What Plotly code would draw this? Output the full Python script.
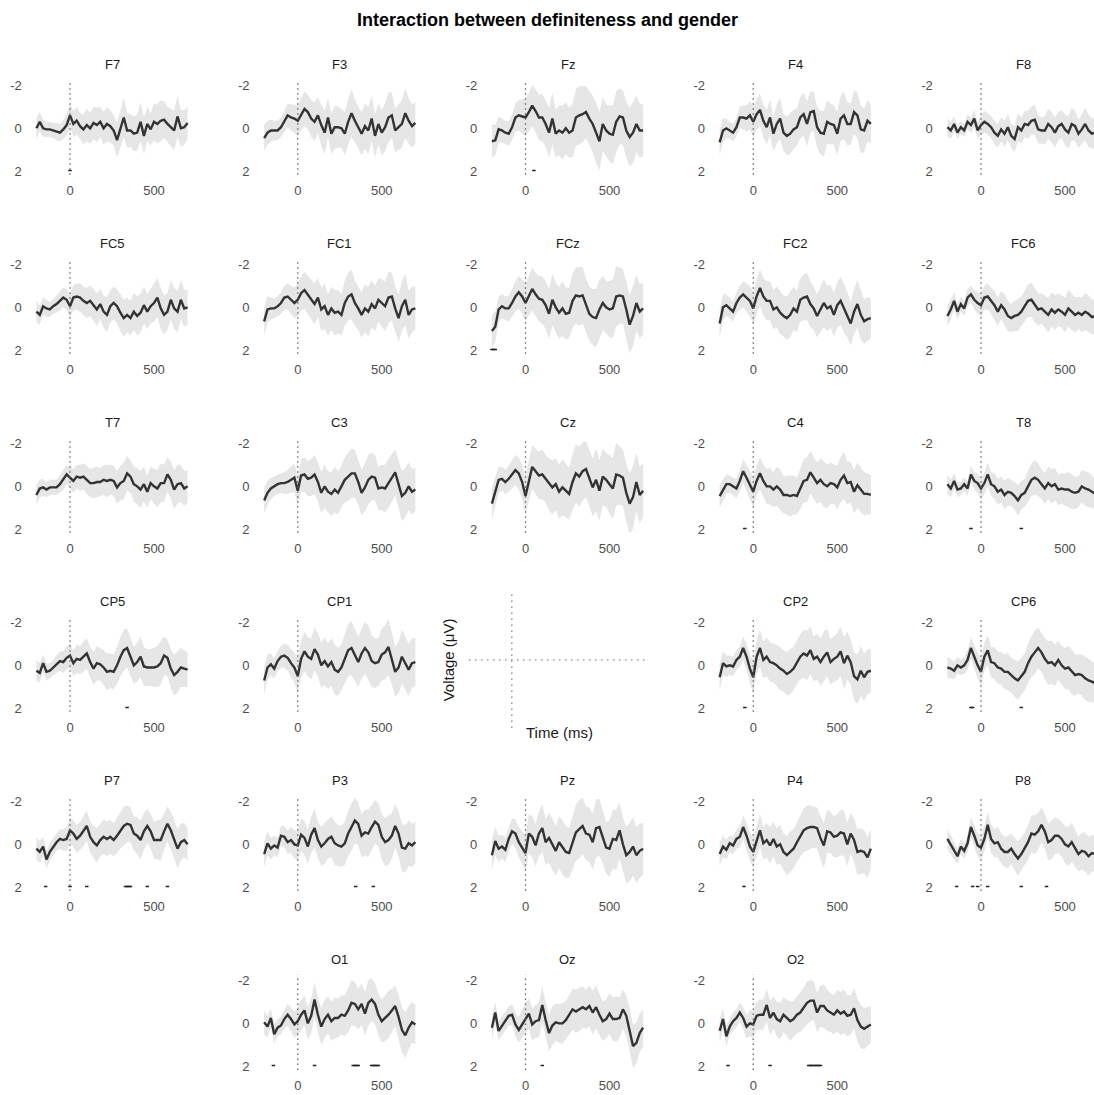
import plotly.graph_objects as go

W, H = 1094, 1095
time_ms = list(range(-200, 701, 20))

# ---- mean difference waves (µV), one value per 20 ms from -200 to 700 ----
F7 = [0.0, -0.3, 0.0, 0.05, 0.05, 0.1, 0.15, 0.2, 0.05, -0.15,
      -0.6, -0.2, -0.35, -0.1, 0.05, -0.15, 0.0, -0.25, -0.15, -0.3,
      0.0, -0.2, -0.1, 0.1, 0.55, 0.0, -0.5, 0.1, 0.1, 0.25,
      0.2, -0.3, 0.35, -0.2, 0.05, -0.3, -0.2, -0.35, -0.4, -0.2,
      -0.05, 0.1, -0.55, 0.0, -0.05, -0.25]
F3 = [0.45, 0.2, 0.1, 0.1, 0.1, -0.05, -0.3, -0.6, -0.5, -0.45,
      -0.35, -0.65, -0.9, -0.75, -0.45, -0.3, -0.6, -0.15, 0.2, -0.5,
      0.25, -0.05, -0.05, 0.0, 0.25, -0.3, -0.7, -0.35, -0.05, 0.25,
      -0.1, 0.1, -0.45, 0.35, -0.2, 0.2, -0.05, -0.5, -0.6, 0.1,
      -0.05, -0.2, -0.7, -0.35, -0.1, -0.25]
Fz = [0.6, 0.55, 0.05, 0.1, 0.2, 0.25, -0.05, -0.5, -0.6, -0.55,
      -0.5, -0.75, -1.05, -0.8, -0.5, -0.5, -0.2, 0.2, -0.45, 0.25,
      0.1, 0.2, 0.0, 0.2, 0.1, -0.5, -0.6, -0.65, -0.75, -0.45,
      -0.2, 0.2, 0.6, -0.2, 0.1, 0.25, 0.3, -0.3, -0.55, -0.5,
      0.1, 0.4, 0.2, -0.2, 0.1, 0.1]
F4 = [0.65, 0.1, 0.0, 0.1, 0.2, -0.05, -0.5, -0.5, -0.45, -0.6,
      -0.3, -0.65, -0.85, -0.35, -0.05, -0.5, 0.25, -0.2, -0.45, 0.2,
      0.35, 0.25, 0.05, -0.05, -0.5, -0.65, -0.2, -0.75, -0.8, -0.05,
      0.2, 0.25, -0.3, -0.2, -0.15, 0.25, -0.45, -0.6, -0.2, -0.2,
      -0.75, -0.6, 0.05, 0.1, -0.35, -0.2]
F8 = [-0.05, 0.1, -0.2, 0.2, -0.05, 0.1, -0.3, -0.15, -0.45, 0.1,
      -0.15, -0.3, -0.2, -0.05, 0.2, 0.35, 0.05, 0.25, -0.05, 0.35,
      0.5, -0.05, 0.1, -0.2, -0.15, -0.35, -0.4, 0.05, 0.1, 0.1,
      -0.2, -0.05, 0.2, -0.1, -0.2, 0.05, 0.2, -0.2, -0.1, 0.25,
      0.05, -0.2, 0.1, 0.25, 0.2, 0.1]
FC5 = [0.2, 0.35, -0.05, 0.05, 0.1, -0.05, -0.15, -0.3, -0.45, -0.35,
       -0.05, -0.45, -0.5, -0.45, -0.3, -0.2, -0.3, -0.1, 0.1, -0.15,
       0.2, 0.35, -0.05, -0.2, -0.05, 0.25, 0.5, 0.35, 0.5, 0.2,
       0.4, 0.25, -0.1, 0.2, -0.05, -0.2, -0.45, 0.05, 0.35, 0.2,
       -0.35, 0.05, 0.2, -0.35, 0.05, 0.0]
FC1 = [0.65, 0.1, 0.05, 0.05, -0.05, -0.2, -0.45, -0.5, -0.35, -0.2,
       -0.35, -0.65, -0.8, -0.6, -0.35, -0.15, -0.45, 0.1, -0.05, 0.35,
       0.05, 0.25, 0.2, 0.35, -0.2, -0.5, -0.6, -0.2, 0.05, 0.35,
       0.05, 0.2, -0.15, 0.05, -0.35, -0.2, -0.05, -0.45, -0.5, 0.05,
       0.5, -0.05, -0.35, 0.35, 0.1, 0.05]
FCz = [1.1, 0.9, 0.1, -0.05, 0.05, 0.05, -0.2, -0.5, -0.7, -0.5,
       -0.2, -0.55, -0.85, -0.6, -0.4, -0.35, -0.1, 0.3, -0.35, 0.0,
       0.25, 0.05, 0.3, 0.25, -0.3, -0.55, -0.5, -0.55, -0.1, 0.3,
       0.45, 0.5, 0.1, -0.2, 0.0, 0.1, 0.05, -0.5, -0.55, -0.5,
       0.1, 0.8, 0.4, -0.2, 0.2, 0.05]
FC2 = [0.75, 0.0, -0.1, 0.05, 0.2, -0.2, -0.45, -0.6, -0.45, -0.3,
       0.05, -0.5, -0.9, -0.5, -0.3, -0.3, 0.1, 0.0, 0.25, 0.4,
       0.5, 0.35, 0.05, 0.2, -0.35, -0.45, -0.5, -0.15, 0.05, 0.4,
       0.1, -0.2, 0.05, -0.05, 0.35, -0.1, -0.3, 0.05, 0.35, 0.75,
       0.2, -0.15, 0.35, 0.65, 0.55, 0.5]
FC6 = [0.4, 0.1, -0.3, 0.2, -0.15, 0.05, -0.45, -0.6, -0.35, -0.2,
       -0.1, -0.45, -0.5, -0.3, -0.1, 0.2, -0.1, 0.1, 0.4, 0.5,
       0.4, 0.35, 0.2, -0.05, -0.3, -0.35, -0.1, 0.1, 0.05, 0.2,
       0.35, 0.1, 0.25, 0.1, 0.2, 0.35, 0.05, 0.2, 0.35, 0.25,
       0.35, 0.2, 0.3, 0.45, 0.4, 0.3]
T7 = [0.4, 0.1, 0.05, 0.15, 0.05, 0.05, 0.05, -0.1, -0.3, -0.55,
      -0.4, -0.25, -0.45, -0.4, -0.45, -0.3, -0.15, -0.15, -0.2, -0.2,
      -0.3, -0.25, -0.3, -0.25, 0.05, -0.15, -0.25, -0.6, -0.45, -0.1,
      0.0, 0.15, -0.1, 0.25, -0.15, 0.0, 0.1, -0.15, -0.15, -0.55,
      -0.3, 0.15, -0.1, -0.15, 0.1, 0.0]
C3 = [0.65, 0.3, 0.1, 0.0, -0.1, -0.15, -0.15, -0.2, -0.3, -0.4,
      0.2, -0.5, -0.55, -0.35, -0.4, -0.55, -0.2, 0.3, 0.0, 0.25,
      0.35, 0.15, 0.3, 0.0, -0.3, -0.45, -0.6, -0.6, -0.2, 0.3,
      0.05, -0.3, -0.45, -0.4, 0.1, 0.05, 0.1, -0.15, -0.4, -0.65,
      -0.1, 0.45, 0.3, 0.0, 0.25, 0.15]
Cz = [0.8, 0.3, -0.3, -0.35, -0.2, -0.35, -0.55, -0.75, -0.6, -0.2,
      0.45, -0.3, -0.9, -0.7, -0.5, -0.55, -0.35, -0.1, 0.05, -0.1,
      0.25, 0.05, 0.2, 0.35, -0.2, -0.6, -0.45, -0.7, -0.8, -0.4,
      0.05, -0.3, 0.2, -0.45, -0.3, -0.1, 0.1, -0.55, -0.5, -0.4,
      0.3, 0.8, 0.5, -0.2, 0.4, 0.2]
C4 = [0.45, 0.15, -0.1, -0.1, 0.0, 0.1, -0.25, -0.7, -0.4, -0.05,
      0.25, -0.25, -0.6, -0.25, 0.0, 0.0, 0.15, 0.0, 0.15, 0.4,
      0.4, 0.45, 0.4, 0.45, 0.1, -0.25, -0.3, -0.65, -0.4, -0.15,
      -0.3, -0.1, 0.0, -0.15, -0.1, 0.05, -0.3, -0.5, -0.15, -0.2,
      0.25, -0.05, 0.15, 0.35, 0.35, 0.4]
T8 = [-0.1, 0.1, -0.25, 0.15, 0.1, -0.1, 0.1, -0.55, -0.25, -0.15,
      0.1, -0.15, -0.55, -0.1, 0.0, 0.25, 0.15, 0.4, 0.25, 0.3,
      0.45, 0.65, 0.4, 0.3, 0.0, -0.3, -0.4, -0.3, -0.1, 0.1,
      -0.15, 0.0, -0.1, 0.15, 0.1, 0.15, 0.15, 0.25, 0.3, 0.25,
      0.0, 0.1, 0.15, 0.25, 0.35, 0.25]
CP5 = [0.25, 0.35, -0.1, 0.3, 0.25, 0.1, -0.05, -0.2, -0.15, -0.35,
       -0.45, -0.1, -0.3, -0.25, -0.4, -0.55, -0.15, 0.15, -0.1, -0.05,
       0.1, 0.3, 0.25, 0.3, 0.0, -0.4, -0.7, -0.8, -0.4, 0.0,
       -0.15, -0.4, 0.05, 0.1, 0.1, 0.1, 0.05, -0.1, -0.45, -0.35,
       0.15, 0.45, 0.3, 0.1, 0.15, 0.2]
CP1 = [0.7, 0.1, -0.05, 0.15, -0.2, -0.4, -0.45, -0.35, -0.1, 0.1,
       0.5, -0.3, -0.65, -0.4, -0.3, -0.75, -0.5, 0.0, -0.2, 0.05,
       -0.15, 0.2, 0.3, 0.1, -0.3, -0.7, -0.8, -0.5, -0.15, -0.55,
       -0.8, -0.6, -0.2, -0.1, -0.15, -0.5, -0.6, -0.85, -0.3, 0.3,
       0.1, -0.4, -0.1, 0.2, -0.1, -0.15]
CP2 = [0.55, -0.1, 0.05, 0.0, 0.05, -0.25, -0.4, -0.8, -0.4, 0.15,
       0.55, -0.4, -0.8, -0.25, -0.4, -0.15, -0.1, 0.0, 0.15, 0.25,
       0.4, 0.3, 0.15, -0.15, -0.4, -0.55, -0.45, -0.7, -0.3, -0.4,
       -0.15, -0.4, -0.6, -0.15, -0.3, -0.4, -0.65, -0.1, -0.45, -0.15,
       0.5, 0.65, 0.25, 0.55, 0.3, 0.25]
CP6 = [0.1, 0.15, 0.25, 0.0, 0.1, 0.0, -0.25, -0.8, -0.4, 0.0,
       0.3, -0.4, -0.7, -0.15, -0.1, 0.1, 0.15, 0.3, 0.3, 0.45,
       0.6, 0.7, 0.5, 0.3, -0.1, -0.4, -0.6, -0.8, -0.6, -0.3,
       -0.1, -0.15, 0.0, -0.25, 0.0, 0.15, 0.1, 0.3, 0.45, 0.4,
       0.45, 0.6, 0.7, 0.75, 0.85, 0.9]
P7 = [0.2, 0.35, 0.1, 0.7, 0.35, 0.1, -0.1, -0.25, -0.2, -0.25,
      -0.65, -0.5, -0.25, -0.4, -0.6, -0.85, -0.35, -0.1, 0.05, -0.2,
      -0.35, -0.25, -0.35, -0.2, -0.4, -0.65, -0.85, -0.95, -0.9, -0.5,
      -0.4, -0.2, -0.6, -0.85, -0.6, -0.2, -0.2, -0.2, -0.6, -0.95,
      -0.65, -0.25, 0.2, -0.1, -0.2, 0.0]
P3 = [0.45, -0.05, 0.2, 0.05, 0.15, -0.4, -0.35, -0.1, -0.2, 0.0,
      0.05, -0.45, -0.3, 0.1, -0.45, -0.75, -0.2, 0.1, -0.05, -0.25,
      -0.35, -0.05, 0.05, 0.1, -0.05, -0.5, -0.8, -1.1, -0.95, -0.4,
      -0.55, -0.5, -0.8, -1.05, -0.9, -0.35, -0.1, -0.2, -0.4, -0.85,
      -0.5, 0.15, 0.2, -0.05, 0.05, -0.1]
Pz = [0.5, -0.15, 0.2, 0.1, 0.25, -0.25, -0.6, -0.5, -0.1, 0.15,
      0.4, -0.5, -0.35, 0.05, -0.5, -0.75, -0.1, -0.3, 0.0, 0.3,
      -0.1, 0.15, 0.35, 0.4, -0.1, -0.55, -0.7, -0.85, -0.5, -0.45,
      -0.1, -0.75, -0.8, -0.35, 0.15, 0.2, -0.25, -0.2, -0.65, 0.0,
      0.5, 0.35, 0.1, 0.5, 0.3, 0.2]
P4 = [0.45, 0.1, 0.25, -0.05, 0.05, -0.25, -0.35, -0.8, -0.4, 0.1,
      0.35, -0.1, -0.65, -0.05, -0.2, 0.05, -0.25, 0.1, 0.0, 0.35,
      0.5, 0.35, 0.2, -0.1, -0.4, -0.65, -0.75, -0.8, -0.8, -0.75,
      -0.3, 0.05, -0.6, -0.55, -0.35, -0.4, -0.55, -0.5, 0.0, -0.5,
      -0.2, 0.35, 0.3, 0.35, 0.6, 0.2]
P8 = [-0.25, 0.0, 0.3, 0.55, 0.1, 0.3, -0.05, -0.8, -0.4, 0.05,
      0.15, -0.25, -0.9, -0.25, -0.05, -0.1, 0.2, 0.35, 0.35, 0.2,
      0.45, 0.65, 0.45, 0.2, -0.1, -0.5, -0.45, -0.6, -0.9, -0.6,
      -0.1, -0.2, -0.4, -0.4, -0.25, 0.0, 0.1, -0.1, 0.15, 0.45,
      0.3, 0.35, 0.55, 0.4, 0.45, 0.5]
O1 = [-0.05, 0.15, -0.25, 0.5, 0.2, 0.1, -0.2, -0.4, -0.2, 0.05,
      -0.1, -0.4, -0.6, 0.0, -0.35, -1.1, -0.4, 0.15, -0.2, -0.4,
      -0.1, -0.25, -0.25, -0.4, -0.35, -0.6, -0.95, -0.9, -0.65, -0.9,
      -0.45, -0.95, -1.1, -0.9, -0.4, -0.1, -0.25, -0.4, -0.6, -0.8,
      -0.3, 0.3, 0.55, 0.2, -0.05, 0.05]
Oz = [0.2, -0.5, 0.35, 0.1, -0.1, -0.35, -0.4, 0.05, 0.3, 0.05,
      -0.25, -0.45, 0.05, -0.1, -0.15, -0.85, -0.15, 0.45, 0.1, -0.05,
      0.0, 0.0, -0.15, -0.4, -0.65, -0.55, -0.65, -0.75, -0.65, -0.8,
      -0.5, -0.75, -0.4, -0.1, -0.2, -0.45, -0.2, -0.2, -0.25, -0.65,
      -0.35, 0.3, 1.05, 0.9, 0.45, 0.2]
O2 = [0.35, -0.2, 0.6, 0.15, -0.1, -0.25, -0.5, -0.25, 0.15, 0.0,
      0.05, -0.35, -0.4, -0.4, -0.85, -0.25, -0.5, -0.2, -0.1, -0.4,
      -0.25, -0.1, -0.2, -0.4, -0.5, -0.7, -0.95, -1.05, -1.05, -0.5,
      -0.8, -0.8, -0.6, -0.5, -0.4, -0.6, -0.45, -0.55, -0.35, -0.4,
      -0.7, -0.15, 0.15, 0.25, 0.15, 0.05]

# ---- half-width of the grey confidence ribbon (µV) ----
F7_ci = [0.50,0.45,0.40,0.35,0.35,0.35,0.40,0.40,0.45,0.50,0.55,0.60,0.65,0.60,0.70,0.75,0.70,0.75,0.80,0.70,0.75,0.80,0.75,0.70,0.80,0.85,0.90,0.80,0.75,0.80,0.85,0.90,0.85,0.80,0.75,0.85,0.90,0.95,0.85,0.80,0.85,0.90,0.95,0.85,0.80,0.75]
F3_ci = [0.60,0.55,0.50,0.45,0.45,0.45,0.50,0.55,0.60,0.65,0.70,0.75,0.80,0.80,0.85,0.90,0.85,0.95,1.00,0.90,0.95,1.00,0.95,0.90,1.00,1.05,1.10,1.00,0.95,1.00,1.05,1.10,1.05,1.00,0.95,1.05,1.10,1.15,1.05,1.00,1.05,1.10,1.15,1.05,1.00,0.95]
Fz_ci = [0.75,0.70,0.60,0.55,0.55,0.55,0.60,0.65,0.70,0.80,0.85,0.90,0.95,1.00,1.05,1.10,1.05,1.15,1.20,1.10,1.15,1.25,1.20,1.15,1.25,1.30,1.35,1.30,1.20,1.25,1.30,1.40,1.35,1.25,1.20,1.30,1.35,1.40,1.30,1.25,1.30,1.35,1.40,1.30,1.25,1.20]
F4_ci = [0.60,0.55,0.45,0.40,0.40,0.45,0.50,0.55,0.60,0.65,0.70,0.70,0.75,0.75,0.80,0.85,0.80,0.90,0.95,0.85,0.90,0.95,0.90,0.85,0.95,1.00,1.05,0.95,0.90,0.95,1.00,1.05,1.00,0.95,0.90,1.00,1.05,1.10,1.00,0.95,1.00,1.05,1.10,1.00,0.95,0.90]
F8_ci = [0.40,0.40,0.35,0.30,0.30,0.30,0.35,0.35,0.40,0.40,0.45,0.50,0.50,0.50,0.55,0.55,0.55,0.60,0.60,0.55,0.60,0.65,0.60,0.60,0.65,0.65,0.70,0.65,0.60,0.65,0.70,0.70,0.70,0.65,0.65,0.70,0.75,0.75,0.70,0.65,0.70,0.75,0.75,0.70,0.70,0.65]
FC5_ci = [0.50,0.45,0.40,0.40,0.35,0.35,0.40,0.45,0.45,0.50,0.55,0.60,0.60,0.65,0.65,0.70,0.70,0.75,0.75,0.70,0.75,0.80,0.75,0.75,0.80,0.85,0.85,0.80,0.80,0.85,0.90,0.90,0.85,0.80,0.80,0.85,0.90,0.95,0.90,0.85,0.90,0.95,0.95,0.90,0.85,0.80]
FC1_ci = [0.65,0.60,0.50,0.45,0.45,0.50,0.55,0.60,0.65,0.70,0.75,0.80,0.85,0.85,0.90,0.95,0.90,1.00,1.05,0.95,1.00,1.05,1.00,0.95,1.05,1.10,1.15,1.05,1.00,1.05,1.10,1.15,1.10,1.05,1.00,1.10,1.15,1.20,1.10,1.05,1.10,1.15,1.20,1.10,1.05,1.00]
FCz_ci = [0.75,0.70,0.60,0.55,0.55,0.60,0.65,0.70,0.75,0.80,0.85,0.90,1.00,1.00,1.05,1.10,1.10,1.15,1.20,1.15,1.20,1.25,1.20,1.15,1.25,1.30,1.35,1.30,1.25,1.25,1.30,1.35,1.35,1.25,1.20,1.30,1.35,1.40,1.30,1.25,1.30,1.35,1.40,1.30,1.25,1.20]
FC2_ci = [0.65,0.60,0.50,0.45,0.45,0.50,0.55,0.60,0.65,0.70,0.75,0.80,0.85,0.85,0.90,0.90,0.90,0.95,1.00,0.95,1.00,1.05,1.00,0.95,1.00,1.05,1.10,1.05,1.00,1.00,1.05,1.10,1.05,1.00,1.00,1.05,1.10,1.15,1.05,1.00,1.05,1.10,1.15,1.05,1.00,0.95]
FC6_ci = [0.45,0.45,0.40,0.35,0.35,0.35,0.40,0.40,0.45,0.50,0.55,0.55,0.60,0.60,0.65,0.65,0.65,0.70,0.70,0.65,0.70,0.75,0.70,0.70,0.75,0.80,0.80,0.75,0.70,0.75,0.80,0.80,0.80,0.75,0.75,0.80,0.85,0.85,0.80,0.75,0.80,0.85,0.85,0.80,0.80,0.75]
T7_ci = [0.45,0.40,0.40,0.35,0.35,0.35,0.35,0.40,0.45,0.45,0.50,0.55,0.55,0.60,0.60,0.65,0.65,0.70,0.70,0.65,0.70,0.75,0.70,0.70,0.75,0.80,0.85,0.80,0.75,0.80,0.85,0.85,0.80,0.75,0.75,0.80,0.85,0.90,0.85,0.80,0.85,0.90,0.90,0.85,0.80,0.75]
C3_ci = [0.60,0.55,0.50,0.45,0.45,0.45,0.50,0.55,0.60,0.65,0.70,0.75,0.80,0.80,0.85,0.90,0.90,0.95,1.00,0.95,1.00,1.05,1.00,0.95,1.05,1.10,1.15,1.10,1.05,1.05,1.10,1.15,1.10,1.05,1.00,1.05,1.10,1.15,1.10,1.05,1.10,1.15,1.15,1.10,1.05,1.00]
Cz_ci = [0.75,0.70,0.60,0.55,0.55,0.60,0.65,0.70,0.75,0.80,0.90,0.95,1.00,1.05,1.10,1.15,1.10,1.20,1.25,1.20,1.25,1.30,1.25,1.20,1.30,1.35,1.40,1.35,1.30,1.30,1.35,1.45,1.40,1.30,1.25,1.35,1.40,1.45,1.35,1.30,1.35,1.40,1.45,1.35,1.30,1.25]
C4_ci = [0.55,0.50,0.45,0.40,0.40,0.45,0.50,0.55,0.60,0.65,0.70,0.70,0.75,0.75,0.80,0.85,0.80,0.90,0.95,0.85,0.90,0.95,0.90,0.85,0.95,1.00,1.05,1.00,0.95,0.95,1.00,1.05,1.00,0.95,0.90,1.00,1.05,1.10,1.00,0.95,1.00,1.05,1.05,1.00,0.95,0.90]
T8_ci = [0.45,0.40,0.35,0.35,0.30,0.30,0.35,0.40,0.40,0.45,0.50,0.50,0.55,0.55,0.60,0.60,0.60,0.65,0.65,0.60,0.65,0.70,0.65,0.65,0.70,0.75,0.80,0.75,0.70,0.70,0.75,0.80,0.75,0.70,0.70,0.75,0.80,0.80,0.75,0.70,0.75,0.80,0.80,0.75,0.70,0.70]
CP5_ci = [0.50,0.45,0.40,0.40,0.35,0.35,0.40,0.45,0.50,0.55,0.55,0.60,0.65,0.65,0.70,0.70,0.70,0.75,0.80,0.75,0.80,0.85,0.80,0.80,0.85,0.90,0.95,0.90,0.85,0.85,0.90,0.95,0.90,0.85,0.85,0.90,0.95,1.00,0.90,0.85,0.90,0.95,0.95,0.90,0.85,0.80]
CP1_ci = [0.65,0.60,0.50,0.45,0.45,0.50,0.55,0.60,0.65,0.70,0.80,0.85,0.90,0.90,0.95,1.00,1.00,1.05,1.10,1.05,1.10,1.15,1.10,1.05,1.15,1.20,1.25,1.20,1.15,1.15,1.20,1.25,1.20,1.15,1.10,1.20,1.25,1.30,1.20,1.15,1.20,1.25,1.25,1.20,1.15,1.10]
CP2_ci = [0.60,0.55,0.50,0.45,0.45,0.45,0.50,0.55,0.60,0.65,0.75,0.80,0.85,0.85,0.90,0.90,0.90,0.95,1.00,0.95,1.00,1.05,1.00,1.00,1.05,1.10,1.15,1.10,1.05,1.05,1.10,1.15,1.10,1.05,1.05,1.10,1.15,1.20,1.10,1.05,1.10,1.15,1.15,1.10,1.05,1.00]
CP6_ci = [0.50,0.45,0.40,0.40,0.35,0.40,0.45,0.50,0.55,0.60,0.65,0.65,0.70,0.70,0.75,0.75,0.75,0.80,0.85,0.80,0.85,0.90,0.85,0.85,0.90,0.95,1.00,0.95,0.90,0.95,1.00,1.00,0.95,0.90,0.90,0.95,1.00,1.05,0.95,0.90,0.95,1.00,1.00,0.95,0.90,0.85]
P7_ci = [0.50,0.50,0.45,0.40,0.40,0.40,0.40,0.45,0.50,0.55,0.60,0.60,0.65,0.65,0.70,0.70,0.70,0.75,0.80,0.75,0.80,0.80,0.80,0.75,0.80,0.85,0.90,0.85,0.80,0.80,0.85,0.90,0.85,0.80,0.80,0.85,0.90,0.95,0.85,0.80,0.85,0.90,0.90,0.85,0.80,0.75]
P3_ci = [0.60,0.55,0.50,0.45,0.45,0.45,0.50,0.55,0.60,0.65,0.70,0.75,0.80,0.80,0.85,0.90,0.85,0.90,0.95,0.90,0.95,1.00,0.95,0.95,1.00,1.05,1.10,1.05,1.00,1.00,1.05,1.10,1.05,1.00,1.00,1.05,1.10,1.15,1.05,1.00,1.05,1.10,1.10,1.05,1.00,0.95]
Pz_ci = [0.70,0.65,0.60,0.55,0.55,0.55,0.60,0.65,0.70,0.75,0.85,0.90,0.95,1.00,1.05,1.10,1.05,1.15,1.20,1.15,1.20,1.25,1.20,1.15,1.25,1.30,1.35,1.30,1.25,1.25,1.30,1.35,1.30,1.25,1.20,1.30,1.35,1.40,1.30,1.25,1.30,1.35,1.35,1.30,1.25,1.20]
P4_ci = [0.55,0.50,0.45,0.40,0.40,0.45,0.50,0.55,0.60,0.65,0.70,0.70,0.75,0.75,0.80,0.85,0.80,0.85,0.90,0.85,0.90,0.95,0.90,0.90,0.95,1.00,1.05,1.00,0.95,0.95,1.00,1.05,1.00,0.95,0.95,1.00,1.05,1.05,1.00,0.95,1.00,1.05,1.05,1.00,0.95,0.90]
P8_ci = [0.45,0.45,0.40,0.35,0.35,0.35,0.40,0.45,0.50,0.55,0.55,0.60,0.60,0.65,0.65,0.70,0.70,0.70,0.75,0.70,0.75,0.80,0.75,0.75,0.80,0.85,0.90,0.85,0.80,0.80,0.85,0.90,0.85,0.80,0.80,0.85,0.90,0.90,0.85,0.80,0.85,0.90,0.90,0.85,0.80,0.80]
O1_ci = [0.55,0.50,0.45,0.45,0.40,0.40,0.45,0.50,0.55,0.60,0.65,0.70,0.70,0.75,0.80,0.80,0.80,0.85,0.90,0.85,0.90,0.95,0.90,0.90,0.95,1.00,1.05,1.00,0.95,0.95,1.00,1.05,1.00,0.95,0.95,1.00,1.05,1.10,1.00,0.95,1.00,1.05,1.05,1.00,0.95,0.90]
Oz_ci = [0.55,0.50,0.45,0.45,0.40,0.45,0.50,0.55,0.60,0.65,0.70,0.70,0.75,0.75,0.80,0.85,0.80,0.85,0.90,0.85,0.90,0.95,0.90,0.90,0.95,1.00,1.00,0.95,0.90,0.95,1.00,1.00,0.95,0.90,0.90,0.95,1.00,1.05,0.95,0.90,0.95,1.00,1.00,0.95,0.90,0.85]
O2_ci = [0.55,0.50,0.45,0.40,0.40,0.40,0.45,0.50,0.55,0.60,0.65,0.65,0.70,0.70,0.75,0.80,0.75,0.80,0.85,0.80,0.85,0.90,0.85,0.85,0.90,0.95,1.00,0.95,0.90,0.90,0.95,1.00,0.95,0.90,0.90,0.95,1.00,1.00,0.95,0.90,0.95,1.00,1.00,0.95,0.90,0.85]

# ---- time points flagged as significant (ms), drawn at the bottom of each panel ----
sig_F7 = [0]
sig_Fz = [50]
sig_FCz = [-200, -190, -180]
sig_C4 = [-50]
sig_T8 = [-60, 240]
sig_CP5 = [340]
sig_CP2 = [-50]
sig_CP6 = [-60, -50, 240]
sig_P7 = [-145, 0, 100, 330, 340, 350, 360, 460, 580]
sig_P3 = [345, 450]
sig_P4 = [-55]
sig_P8 = [-145, -50, -20, 40, 240, 390]
sig_O1 = [-145, 100, 330, 340, 350, 360, 440, 450, 460, 470, 480]
sig_Oz = [100]
sig_O2 = [-150, 100, 330, 340, 350, 360, 370, 380, 390, 400]
SIG_LEVEL = 1.95

y_ticks = [-2, 0, 2]
x_ticks = [0, 500]

grid = [
    ["F7", "F3", "Fz", "F4", "F8"],
    ["FC5", "FC1", "FCz", "FC2", "FC6"],
    ["T7", "C3", "Cz", "C4", "T8"],
    ["CP5", "CP1", "LEGEND", "CP2", "CP6"],
    ["P7", "P3", "Pz", "P4", "P8"],
    [None, "O1", "Oz", "O2", None],
]

channels = {
    "F7": (F7, F7_ci, sig_F7), "F3": (F3, F3_ci, []), "Fz": (Fz, Fz_ci, sig_Fz),
    "F4": (F4, F4_ci, []), "F8": (F8, F8_ci, []),
    "FC5": (FC5, FC5_ci, []), "FC1": (FC1, FC1_ci, []), "FCz": (FCz, FCz_ci, sig_FCz),
    "FC2": (FC2, FC2_ci, []), "FC6": (FC6, FC6_ci, []),
    "T7": (T7, T7_ci, []), "C3": (C3, C3_ci, []), "Cz": (Cz, Cz_ci, []),
    "C4": (C4, C4_ci, sig_C4), "T8": (T8, T8_ci, sig_T8),
    "CP5": (CP5, CP5_ci, sig_CP5), "CP1": (CP1, CP1_ci, []),
    "CP2": (CP2, CP2_ci, sig_CP2), "CP6": (CP6, CP6_ci, sig_CP6),
    "P7": (P7, P7_ci, sig_P7), "P3": (P3, P3_ci, sig_P3), "Pz": (Pz, Pz_ci, []),
    "P4": (P4, P4_ci, sig_P4), "P8": (P8, P8_ci, sig_P8),
    "O1": (O1, O1_ci, sig_O1), "Oz": (Oz, Oz_ci, sig_Oz), "O2": (O2, O2_ci, sig_O2),
}
for name, (m, ci, s) in channels.items():
    assert len(m) == len(time_ms) and len(ci) == len(time_ms), name

# ---- geometry (pixels) ----
COL_ZERO, COL_STEP, PX_PER_MS = 70.0, 227.75, 0.168
ROW_ZERO, ROW_STEP, PX_PER_UV = 127.0, 180.0, 21.75
X_LO, X_HI = -230, 730
Y_TOP, Y_BOT = -2.25, 2.15

FONT = "Liberation Sans, Arial, sans-serif"
TICK_COL = "#4d4d4d"
LINE_COL = "#333333"
RIB_COL = "rgb(230,230,230)"

fig = go.Figure()
layout = dict(
    width=W, height=H, margin=dict(l=0, r=0, t=0, b=0),
    paper_bgcolor="white", plot_bgcolor="white", showlegend=False,
    font=dict(family=FONT, size=13, color=TICK_COL),
)
shapes, annotations = [], []

k = 0
for r, row in enumerate(grid):
    for c, name in enumerate(row):
        if name is None:
            continue
        k += 1
        xa = "x" if k == 1 else f"x{k}"
        ya = "y" if k == 1 else f"y{k}"
        xkey = "xaxis" if k == 1 else f"xaxis{k}"
        ykey = "yaxis" if k == 1 else f"yaxis{k}"
        x0 = COL_ZERO + c * COL_STEP
        y0 = ROW_ZERO + r * ROW_STEP

        if name == "LEGEND":
            left, right, top, bottom = 469, 648, 593, 730
            layout[xkey] = dict(domain=[left / W, right / W], range=[-220, 700], anchor=ya,
                                visible=False, fixedrange=True)
            layout[ykey] = dict(domain=[1 - bottom / H, 1 - top / H], range=[2, -2], anchor=xa,
                                visible=False, fixedrange=True)
            fig.add_trace(go.Scatter(x=[0], y=[0], mode="markers", marker=dict(opacity=0),
                                     xaxis=xa, yaxis=ya, hoverinfo="skip"))
            shapes.append(dict(type="line", xref=xa, yref=f"{ya} domain", x0=0, x1=0, y0=0, y1=1,
                               line=dict(color="#888888", width=1.3, dash="1.5px,4.5px")))
            shapes.append(dict(type="line", xref=f"{xa} domain", yref=ya, x0=0, x1=1, y0=0, y1=0,
                               line=dict(color="#888888", width=1.3, dash="1.5px,4.5px")))
            annotations.append(dict(text="Voltage (μV)", x=448 / W, y=1 - 662 / H, xref="paper",
                                    yref="paper", showarrow=False, textangle=-90,
                                    font=dict(size=15, color="#1a1a1a", family=FONT)))
            annotations.append(dict(text="Time (ms)", x=559 / W, y=1 - 745 / H, xref="paper",
                                    yref="paper", showarrow=False,
                                    font=dict(size=15, color="#1a1a1a", family=FONT)))
            continue

        mean, ci, sig = channels[name]
        left = x0 + X_LO * PX_PER_MS
        right = x0 + X_HI * PX_PER_MS
        x_hi = X_HI
        if right > W:
            right = W
            x_hi = (W - x0) / PX_PER_MS
        top = y0 + Y_TOP * PX_PER_UV
        bottom = y0 + Y_BOT * PX_PER_UV

        layout[xkey] = dict(domain=[left / W, right / W], range=[X_LO, x_hi], anchor=ya,
                            showgrid=False, zeroline=False, showline=False,
                            tickvals=x_ticks, ticktext=[str(v) for v in x_ticks],
                            ticks="outside", ticklen=4, tickcolor="rgba(0,0,0,0)",
                            tickfont=dict(size=13, color=TICK_COL, family=FONT), fixedrange=True)
        layout[ykey] = dict(domain=[1 - bottom / H, 1 - top / H], range=[Y_BOT, Y_TOP], anchor=xa,
                            showgrid=False, zeroline=False, showline=False,
                            tickvals=y_ticks, ticktext=[str(v) for v in y_ticks],
                            ticks="outside", ticklen=6, tickcolor="rgba(0,0,0,0)",
                            tickfont=dict(size=13, color=TICK_COL, family=FONT), fixedrange=True)

        upper = [m - h for m, h in zip(mean, ci)]
        lower = [m + h for m, h in zip(mean, ci)]
        fig.add_trace(go.Scatter(x=time_ms + time_ms[::-1], y=upper + lower[::-1],
                                 fill="toself", fillcolor=RIB_COL, line=dict(width=0),
                                 mode="lines", xaxis=xa, yaxis=ya, hoverinfo="skip"))
        fig.add_trace(go.Scatter(x=time_ms, y=mean, mode="lines",
                                 line=dict(color=LINE_COL, width=2.4),
                                 xaxis=xa, yaxis=ya, name=name))
        if sig:
            fig.add_trace(go.Scatter(x=sig, y=[SIG_LEVEL] * len(sig), mode="markers",
                                     marker=dict(symbol="line-ew", size=2.5,
                                                 line=dict(color="#222222", width=1.5)),
                                     xaxis=xa, yaxis=ya, hoverinfo="skip"))
        shapes.append(dict(type="line", xref=xa, yref=f"{ya} domain", x0=0, x1=0, y0=0, y1=1,
                           line=dict(color="#666666", width=1.3, dash="1.5px,3.5px"),
                           layer="above"))
        title_x = x0 + (X_LO + X_HI) / 2 * PX_PER_MS
        annotations.append(dict(text=name, x=title_x / W, y=1 - (top - 15) / H,
                                xref="paper", yref="paper", showarrow=False,
                                xanchor="center", yanchor="middle",
                                font=dict(size=13, color="#1a1a1a", family=FONT)))

annotations.append(dict(text="<b>Interaction between definiteness and gender</b>",
                        x=547 / W, y=1 - 18 / H, xref="paper", yref="paper", showarrow=False,
                        xanchor="center", yanchor="middle",
                        font=dict(size=18, color="#000000", family=FONT)))

layout["shapes"] = shapes
layout["annotations"] = annotations
fig.update_layout(**layout)
fig.write_html("out.html", config={"displayModeBar": False},
               post_script="document.body.style.margin='0';document.body.style.overflow='hidden';")
